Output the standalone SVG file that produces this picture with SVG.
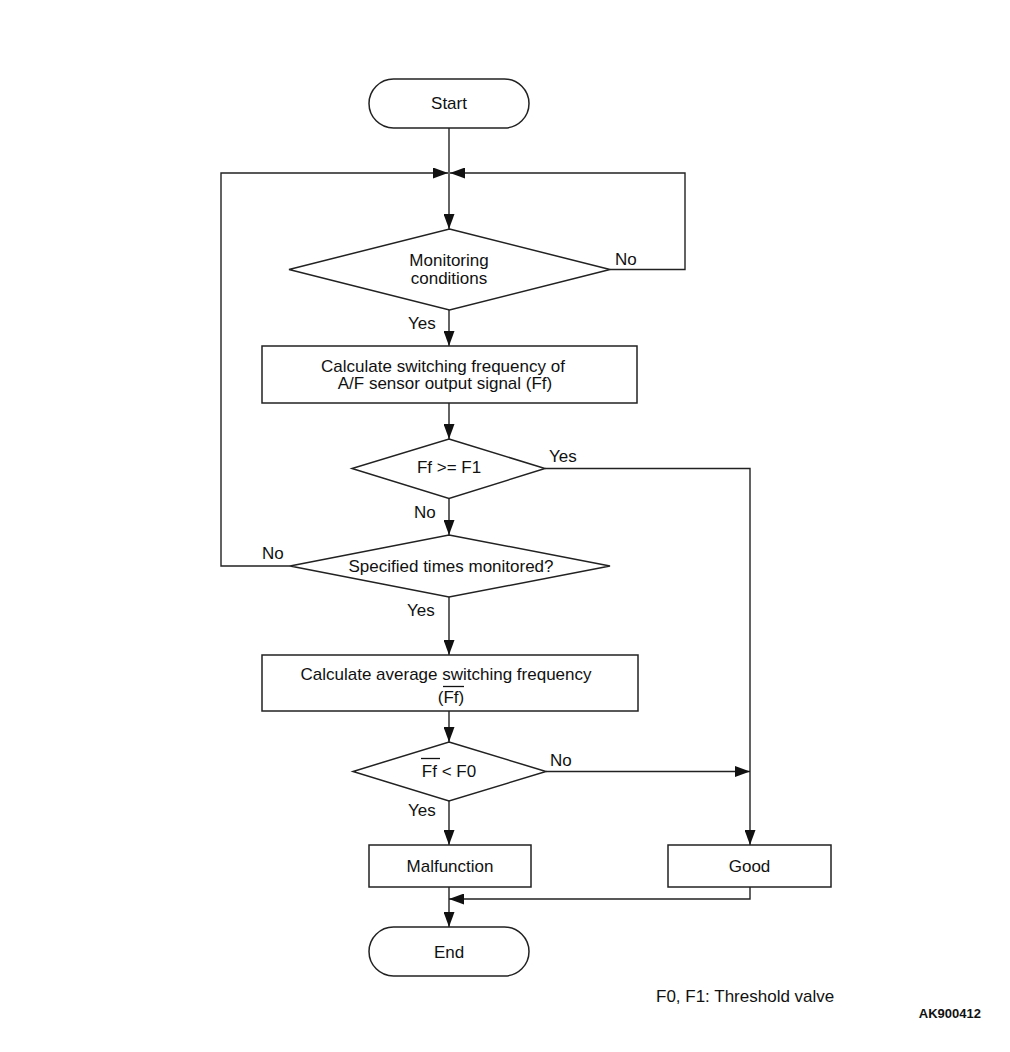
<svg xmlns="http://www.w3.org/2000/svg" width="1010" height="1052" viewBox="0 0 1010 1052">
<style>
.shape{fill:#fff;stroke:#222;stroke-width:1.5}
.conn{fill:none;stroke:#222;stroke-width:1.4}
text{font-family:"Liberation Sans",Arial,sans-serif;font-size:17px;fill:#111}
.c{text-anchor:middle}
.ov{stroke:#111;stroke-width:1.3}
</style>
<defs>
<marker id="ah" markerUnits="userSpaceOnUse" markerWidth="16" markerHeight="11" refX="15" refY="5.5" orient="auto">
<path d="M0,0 L15,5.5 L0,11 Z" fill="#111"/>
</marker>
</defs>
<rect width="1010" height="1052" fill="#fff"/>
<g id="connectors">
<path class="conn" d="M449,128 V229" marker-end="url(#ah)"/>
<path class="conn" d="M610,269.5 H685 V173 H450" marker-end="url(#ah)"/>
<path class="conn" d="M449,310 V346" marker-end="url(#ah)"/>
<path class="conn" d="M449,403 V439" marker-end="url(#ah)"/>
<path class="conn" d="M545,468.5 H750 V845" marker-end="url(#ah)"/>
<path class="conn" d="M449,498.5 V535" marker-end="url(#ah)"/>
<path class="conn" d="M290,566 H221 V173 H448" marker-end="url(#ah)"/>
<path class="conn" d="M449,597 V655" marker-end="url(#ah)"/>
<path class="conn" d="M449,711 V742" marker-end="url(#ah)"/>
<path class="conn" d="M546,771.5 H750" marker-end="url(#ah)"/>
<path class="conn" d="M449,801 V845" marker-end="url(#ah)"/>
<path class="conn" d="M750,887 V899 H449" marker-end="url(#ah)"/>
<path class="conn" d="M449,887 V927" marker-end="url(#ah)"/>
<text x="615" y="265">No</text>
<text x="408" y="329">Yes</text>
<text x="549" y="462">Yes</text>
<text x="414" y="518">No</text>
<text x="262" y="559">No</text>
<text x="407" y="616">Yes</text>
<text x="550" y="766">No</text>
<text x="408" y="816">Yes</text>
</g>
<g id="start">
<rect class="shape" x="369" y="79" width="160" height="49" rx="24.5"/>
<text class="c" x="449" y="109">Start</text>
</g>
<g id="monitoring">
<polygon class="shape" points="449.5,229 610,269.5 449.5,310 289,269.5"/>
<text class="c" x="449" y="265.5">Monitoring</text>
<text class="c" x="449" y="284">conditions</text>
</g>
<g id="calc-freq">
<rect class="shape" x="262" y="346" width="375" height="57"/>
<text class="c" x="443" y="372">Calculate switching frequency of</text>
<text class="c" x="445" y="389">A/F sensor output signal (Ff)</text>
</g>
<g id="ff-f1">
<polygon class="shape" points="449,439 545,468.5 449,498.5 352,468.5"/>
<text class="c" x="449" y="473">Ff &gt;= F1</text>
</g>
<g id="specified">
<polygon class="shape" points="449,535 610,566 449,597 290,566"/>
<text class="c" x="451" y="572">Specified times monitored?</text>
</g>
<g id="calc-avg">
<rect class="shape" x="262" y="655" width="376" height="56"/>
<text class="c" x="446" y="680">Calculate average switching frequency</text>
<text class="c" x="451" y="703">(Ff)</text>
<line class="ov" x1="443" y1="686.5" x2="464" y2="686.5"/>
</g>
<g id="ff-f0">
<polygon class="shape" points="449,742 546,771.5 449,801 353,771.5"/>
<text class="c" x="449" y="777">Ff &lt; F0</text>
<line class="ov" x1="421" y1="758.5" x2="440" y2="758.5"/>
</g>
<g id="malfunction">
<rect class="shape" x="369" y="845" width="162" height="42"/>
<text class="c" x="450" y="872">Malfunction</text>
</g>
<g id="good">
<rect class="shape" x="668" y="845" width="163" height="42"/>
<text class="c" x="749.5" y="872">Good</text>
</g>
<g id="end">
<rect class="shape" x="369" y="927" width="160" height="49" rx="24.5"/>
<text class="c" x="449" y="958">End</text>
</g>
<text x="656" y="1002">F0, F1: Threshold valve</text>
<text x="981" y="1018" style="font-size:13px;font-weight:bold;text-anchor:end">AK900412</text>
</svg>
